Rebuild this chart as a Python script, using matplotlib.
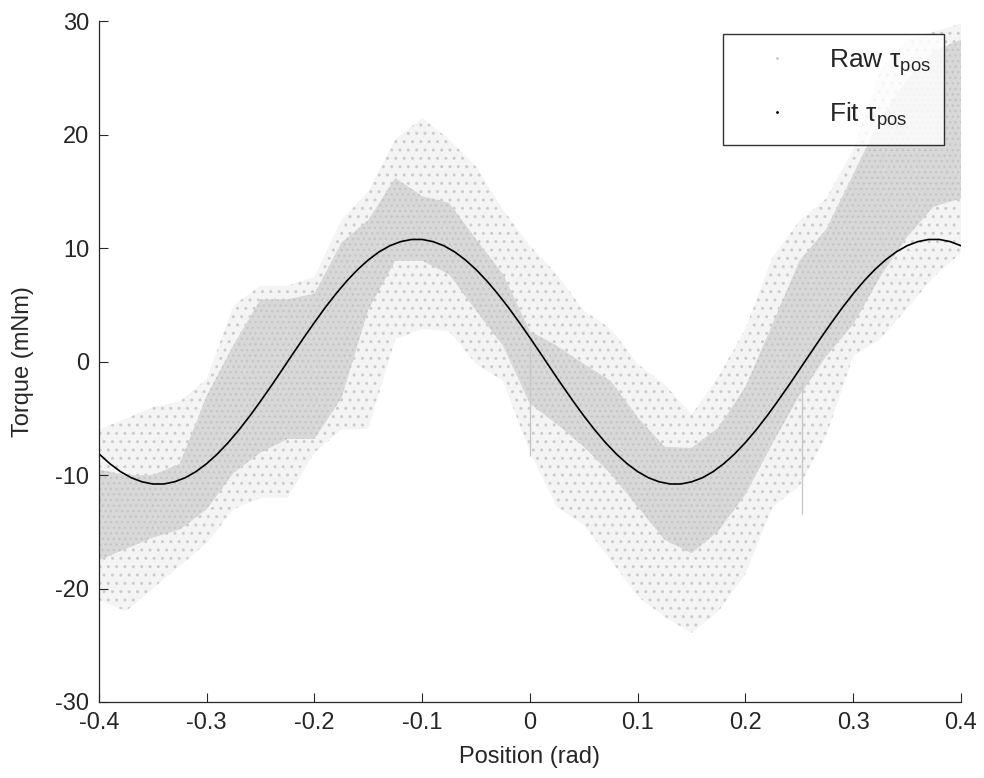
import numpy as np
import matplotlib.pyplot as plt
from matplotlib.lines import Line2D

plt.rcParams['font.family'] = ['Liberation Sans', 'DejaVu Sans']
plt.rcParams['mathtext.fontset'] = 'custom'
plt.rcParams['mathtext.rm'] = 'Liberation Sans'
plt.rcParams['mathtext.it'] = 'Liberation Sans:italic'
plt.rcParams['hatch.linewidth'] = 1.0

band_x = [-0.400, -0.375, -0.350, -0.325, -0.300, -0.275, -0.250, -0.225, -0.200,
          -0.175, -0.150, -0.125, -0.100, -0.075, -0.050, -0.025, 0.000, 0.025,
          0.050, 0.075, 0.100, 0.125, 0.150, 0.175, 0.200, 0.225, 0.250, 0.275,
          0.300, 0.325, 0.350, 0.375, 0.400]
outer_lo = [-21, -22, -20, -18, -16, -13, -12, -12, -8,
            -6, -5.9, 2, 2.9, 2.7, -0.2, -1.7, -8, -12.8,
            -14.4, -17.5, -20.7, -22.5, -23.9, -22, -18.7, -12.8, -11, -6.5,
            0.5, 2, 4.7, 7.5, 9.6]
core_lo = [-17.5, -16.5, -15.5, -14.8, -13, -9.8, -8, -6.8, -6.8,
           -3.2, 4.6, 8.9, 8.9, 7.7, 4.5, 1.4, -3.7, -5.5,
           -7.5, -9.9, -12.8, -15.7, -16.9, -14.9, -11.7, -7.2, -3, 0.5,
           3.3, 7.5, 11, 13.7, 14.4]
core_hi = [-9.5, -10, -10, -9, -3, 1.5, 5.5, 5.5, 6,
           10.5, 12.5, 16.2, 14.6, 14, 10.8, 7.7, 2.7, 1.4,
           -0.2, -1.7, -4.9, -7.5, -7.6, -5.8, -2.2, 3.3, 8.9, 11.7,
           16.5, 21.4, 24.9, 27.4, 28.4]
outer_hi = [-6, -5, -4, -3.5, -1.5, 5, 6.7, 6.7, 7.5,
            12.5, 15, 19.6, 21.5, 19.6, 17.2, 13.4, 10.2, 7.7,
            4.5, 2.9, -0.2, -2, -4.7, -1.3, 2.9, 9.2, 12.4, 14.4,
            18.7, 25.6, 28.4, 29.1, 29.8]

# two vertical streaks in the raw data
spike_x = [0.0, 0.252]
spike_lo = [-8.3, -13.4]
spike_hi = [2.0, -1.9]

# Fitted torque curve, read at 0.01 rad steps
fit_x = np.round(np.arange(-0.40, 0.4001, 0.01), 2)
fit_y = [-8.12, -8.98, -9.69, -10.23, -10.59, -10.78, -10.78, -10.59, -10.23, -9.69,
         -8.98, -8.12, -7.12, -6.00, -4.78, -3.47, -2.11, -0.71, 0.71, 2.11,
         3.47, 4.78, 6.00, 7.12, 8.12, 8.98, 9.69, 10.23, 10.59, 10.78,
         10.78, 10.59, 10.23, 9.69, 8.98, 8.12, 7.12, 6.00, 4.78, 3.47,
         2.11, 0.71, -0.71, -2.11, -3.47, -4.78, -6.00, -7.12, -8.12, -8.98,
         -9.69, -10.23, -10.59, -10.78, -10.78, -10.59, -10.23, -9.69, -8.98, -8.12,
         -7.12, -6.00, -4.78, -3.47, -2.11, -0.71, 0.71, 2.11, 3.47, 4.78,
         6.00, 7.12, 8.12, 8.98, 9.69, 10.23, 10.59, 10.78, 10.78, 10.59, 10.23]

fig = plt.figure(figsize=(9.84, 7.78), dpi=100)
ax = fig.add_axes([0.1006, 0.0977, 0.876, 0.8747])

# sparse outer band, then the dense core on top
ax.fill_between(band_x, outer_lo, outer_hi, facecolor='#f4f4f4', edgecolor='#cccccc',
                hatch='..', linewidth=0)
ax.fill_between(band_x, core_lo, core_hi, facecolor='#d8d8d8', edgecolor='#c6c6c6',
                hatch='...', linewidth=0)
ax.vlines(spike_x, spike_lo, spike_hi, color='#c8c8c8', linewidth=1.0)

ax.plot(fit_x, fit_y, color='black', linewidth=1.2)

ax.set_xlim(-0.4, 0.4)
ax.set_ylim(-30, 30)
ax.set_xticks([-0.4, -0.3, -0.2, -0.1, 0, 0.1, 0.2, 0.3, 0.4])
ax.set_xticklabels(['-0.4', '-0.3', '-0.2', '-0.1', '0', '0.1', '0.2', '0.3', '0.4'])
ax.set_yticks([-30, -20, -10, 0, 10, 20, 30])
ax.set_yticklabels(['-30', '-20', '-10', '0', '10', '20', '30'])
ax.tick_params(direction='in', length=6.5, width=0.8, labelsize=17, colors='#262626')
ax.tick_params(axis='x', pad=7)
ax.tick_params(axis='y', pad=7)
for s in ['top', 'right']:
    ax.spines[s].set_visible(False)
for s in ['left', 'bottom']:
    ax.spines[s].set_linewidth(0.9)
    ax.spines[s].set_color('#262626')

ax.set_xlabel('Position (rad)', fontsize=17, color='#262626', labelpad=9)
ax.set_ylabel('Torque (mNm)', fontsize=17, color='#262626', labelpad=15)

handles = [Line2D([], [], ls='none', marker='.', markersize=2, color='#c8c8c8'),
           Line2D([], [], ls='none', marker='.', markersize=2, color='black')]
labels = [r'Raw τ$_{\mathrm{pos}}$', r'Fit τ$_{\mathrm{pos}}$']
leg = ax.legend(handles, labels, loc='upper right', bbox_to_anchor=(0.980, 0.982),
                borderaxespad=0, fontsize=19, frameon=True, fancybox=False,
                handlelength=3.1, handletextpad=0.42, borderpad=0.5, labelspacing=0.85)
leg.get_frame().set_edgecolor('black')
leg.get_frame().set_linewidth(1.0)
for t in leg.get_texts():
    t.set_color('#262626')

fig.savefig('out.png', dpi=100, facecolor='white')
